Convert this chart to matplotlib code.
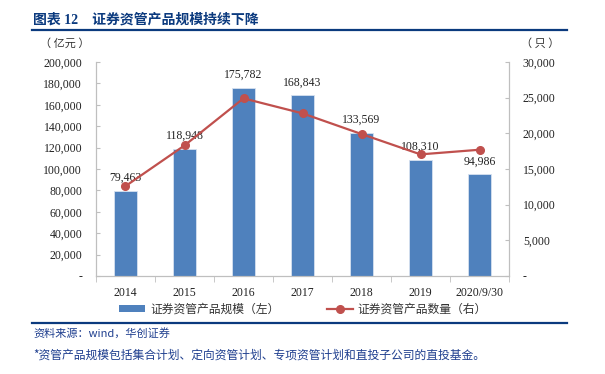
import matplotlib
matplotlib.use("Agg")
import matplotlib.pyplot as plt
from matplotlib.lines import Line2D
from matplotlib.patches import Patch
from matplotlib.ticker import FuncFormatter, FixedLocator

categories = ["2014", "2015", "2016", "2017", "2018", "2019", "2020/9/30"]
scale_values = [79463, 118948, 175782, 168843, 133569, 108310, 94986]
count_values = [12600, 18300, 24900, 22800, 19900, 17050, 17700]
left_ticks = [0, 20000, 40000, 60000, 80000, 100000, 120000, 140000, 160000, 180000, 200000]
right_ticks = [0, 5000, 10000, 15000, 20000, 25000, 30000]
title_text = "图表 12    证券资管产品规模持续下降"
left_unit = "（ 亿元 ）"
right_unit = "（ 只 ）"
bar_label = "证券资管产品规模（左）"
line_label = "证券资管产品数量（右）"
source_text = "资料来源：wind，华创证券"
note_text = "*资管产品规模包括集合计划、定向资管计划、专项资管计划和直投子公司的直投基金。"

SERIF = ["Liberation Serif", "Noto Sans CJK SC", "DejaVu Sans"]
CJK = ["Noto Sans CJK SC", "DejaVu Sans"]
BAR_C = "#4F81BD"
LINE_C = "#C0504D"
NAVY = "#0B3A7E"
SPINE_C = "#BFBFBF"

W, H = 605, 374
fig = plt.figure(figsize=(W / 100, H / 100), dpi=100)
ax = fig.add_axes([96 / W, 1 - 276 / H, (509 - 96) / W, (276 - 62) / H])
ax2 = ax.twinx()

x = list(range(len(categories)))
ax.bar(x, scale_values, width=0.4, color=BAR_C, edgecolor="#D6E1F0", linewidth=0.6, zorder=2)
ax2.plot(x, count_values, color=LINE_C, linewidth=1.6, marker="o", markersize=5.5,
         markerfacecolor=LINE_C, markeredgecolor=LINE_C, zorder=3)

ax.set_xlim(-0.5, len(categories) - 0.5)
ax.set_ylim(0, 200000)
ax2.set_ylim(0, 30000)

fmt = FuncFormatter(lambda v, p: "-" if v == 0 else f"{int(v):,}")
ax.yaxis.set_major_locator(FixedLocator(left_ticks))
ax2.yaxis.set_major_locator(FixedLocator(right_ticks))
ax.yaxis.set_major_formatter(fmt)
ax2.yaxis.set_major_formatter(fmt)

ax.set_xticks(x)
ax.set_xticklabels(categories)
ax.set_xticks([i + 0.5 for i in range(-1, len(categories))], minor=True)
ax.tick_params(axis="x", which="major", length=0, pad=8)
ax.tick_params(axis="x", which="minor", length=4, direction="out", color=SPINE_C)
ax.tick_params(axis="y", length=3, direction="in", color=SPINE_C, pad=10)
ax2.tick_params(axis="y", length=3, direction="in", color=SPINE_C, pad=10)

for a in (ax, ax2):
    a.spines["top"].set_visible(False)
    for s in ("left", "right", "bottom"):
        a.spines[s].set_color(SPINE_C)
        a.spines[s].set_linewidth(0.8)
    for lab in a.get_xticklabels() + a.get_yticklabels():
        lab.set_fontfamily(SERIF)
        lab.set_fontsize(8.5)
        lab.set_color("#222222")

for xi, v in zip(x, scale_values):
    ax.annotate(f"{v:,}", (xi, v), xytext=(0, 5), textcoords="offset points",
                ha="center", va="bottom", fontsize=8.5, family=SERIF, color="#222222", zorder=4)

ax2.set_zorder(ax.get_zorder() + 1)

# header
fig.text(33 / W, 1 - 20 / H, title_text, family=SERIF, fontsize=10, fontweight="bold",
         color=NAVY, ha="left", va="center")
fig.add_artist(Line2D([32 / W, 567 / W], [1 - 30 / H, 1 - 30 / H], color=NAVY, linewidth=1.6))
fig.text(65 / W, 1 - 43 / H, left_unit, family=CJK, fontsize=8, color="#333333", ha="center", va="center")
fig.text(540 / W, 1 - 43 / H, right_unit, family=CJK, fontsize=8, color="#333333", ha="center", va="center")

# legend
handles = [Patch(facecolor=BAR_C, edgecolor="none"),
           Line2D([0], [0], color=LINE_C, linewidth=1.6, marker="o", markersize=5.5)]
fig.legend(handles, [bar_label, line_label], loc="center", bbox_to_anchor=(303 / W, 1 - 309 / H),
           ncol=2, frameon=False, prop={"family": CJK, "size": 8.5}, labelcolor="#333333",
           handlelength=2.2, handleheight=0.5, columnspacing=4.0, handletextpad=0.4)

# footer
fig.add_artist(Line2D([32 / W, 567 / W], [1 - 322.7 / H, 1 - 322.7 / H], color=NAVY, linewidth=1.6))
fig.text(33 / W, 1 - 333 / H, source_text, family=CJK, fontsize=8, color="#1F3F8F",
         ha="left", va="center", style="italic")
fig.text(33 / W, 1 - 355 / H, note_text, family=CJK, fontsize=8.5, color="#1F3F8F",
         ha="left", va="center", style="italic")

fig.savefig("out.png", dpi=100)
